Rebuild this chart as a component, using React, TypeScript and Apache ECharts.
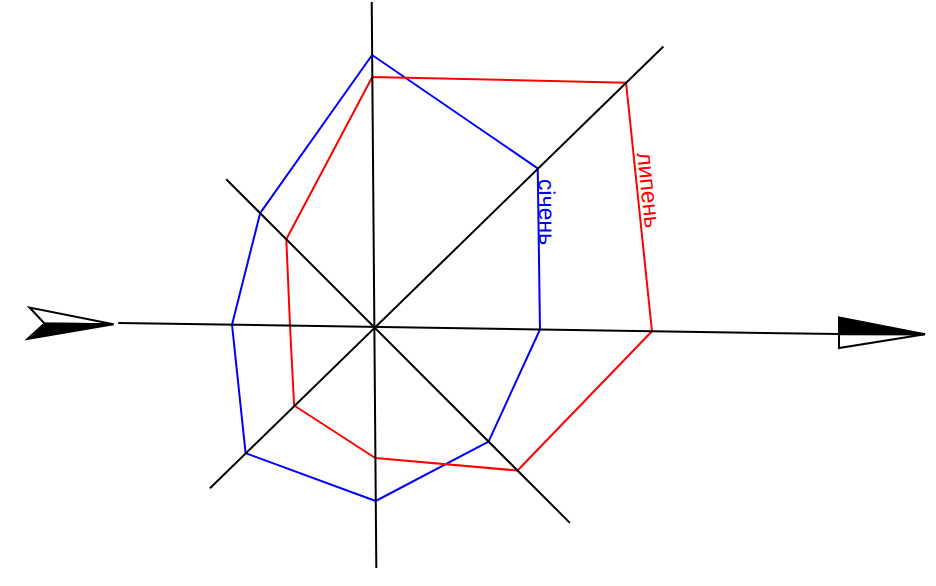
import React, { useEffect, useRef } from "react";
import * as echarts from "echarts";

// Directions of the wind rose (N, NE, E, SE, S, SW, W, NW)
const directions = ["Пн", "ПнСх", "Сх", "ПдСх", "Пд", "ПдЗх", "Зх", "ПнЗх"];
// Angle of each direction ray (degrees, counter-clockwise from east)
const directionAngles = [90.4, 44.1, -0.87, -45, -89.45, -135.5, 179.1, 135];
// Length of each axis ray
const axisLengths = [325, 403, 465, 277, 241, 230, 256, 209];
// Series values per direction
const januaryValues = [272, 228, 166, 162, 174, 180, 142, 161];
const julyValues = [250, 351, 278, 203, 131, 112, 84, 124];
const seriesNames = ["січень", "липень"];

const toXY = (r: number, deg: number): [number, number] => {
  const a = (deg * Math.PI) / 180;
  return [r * Math.cos(a), r * Math.sin(a)];
};

const polygon = (vals: number[]) => {
  const pts = vals.map((v, i) => toXY(v, directionAngles[i]));
  pts.push(pts[0]);
  return pts;
};

const axisPairs = [
  [0, 4],
  [1, 5],
  [2, 6],
  [3, 7],
];

export default function App() {
  const ref = useRef<HTMLDivElement>(null);
  useEffect(() => {
    if (!ref.current) return;
    const chart = echarts.init(ref.current, undefined, { renderer: "svg" });
    const axisSeries = axisPairs.map(([a, b]) => ({
      type: "line",
      name: directions[a] + "-" + directions[b],
      data: [toXY(axisLengths[a], directionAngles[a]), toXY(axisLengths[b], directionAngles[b])],
      showSymbol: false,
      silent: true,
      z: 5,
      lineStyle: { color: "#000", width: 2 },
    }));
    const font = '23px "Liberation Sans", Arial, sans-serif';
    chart.setOption({
      animation: false,
      backgroundColor: "#fff",
      grid: { left: 0, right: 0, top: 0, bottom: 0, containLabel: false },
      xAxis: {
        type: "value",
        min: -374,
        max: 562,
        show: false,
        splitLine: { show: false },
      },
      yAxis: {
        type: "value",
        min: -259,
        max: 327,
        show: false,
        splitLine: { show: false },
      },
      series: [
        {
          type: "line",
          name: seriesNames[0],
          data: polygon(januaryValues),
          showSymbol: false,
          silent: true,
          z: 3,
          lineStyle: { color: "#0000ff", width: 2 },
        },
        {
          type: "line",
          name: seriesNames[1],
          data: polygon(julyValues),
          showSymbol: false,
          silent: true,
          z: 3,
          lineStyle: { color: "#ff0000", width: 2 },
        },
        ...axisSeries,
      ],
      graphic: [
        // right arrow head: upper half filled, lower half outlined
        {
          type: "polygon",
          z: 10,
          shape: { points: [[839, 334], [839, 348], [925, 334.3]] },
          style: { fill: "#fff", stroke: "#000", lineWidth: 2 },
        },
        {
          type: "polygon",
          z: 10,
          shape: { points: [[839, 317.5], [839, 334], [925, 334.3]] },
          style: { fill: "#000", stroke: "#000", lineWidth: 2 },
        },
        // left arrow tail
        {
          type: "polygon",
          z: 10,
          shape: { points: [[29.5, 307.5], [44.5, 323.5], [113.5, 324.3]] },
          style: { fill: "#fff", stroke: "#000", lineWidth: 2 },
        },
        {
          type: "polygon",
          z: 10,
          shape: { points: [[44.5, 323.5], [27.5, 339], [113.5, 324.3]] },
          style: { fill: "#000", stroke: "#000", lineWidth: 2 },
        },
        {
          type: "text",
          z: 10,
          x: 547,
          y: 212,
          rotation: -1.557,
          style: {
            text: seriesNames[0],
            fill: "#0000ff",
            font,
            align: "center",
            verticalAlign: "middle",
          },
        },
        {
          type: "text",
          z: 10,
          x: 649,
          y: 190,
          rotation: -1.464,
          style: {
            text: seriesNames[1],
            fill: "#ff0000",
            font,
            align: "center",
            verticalAlign: "middle",
          },
        },
      ],
    });
    return () => chart.dispose();
  }, []);
  return (
    <div
      ref={ref}
      style={{ position: "absolute", left: 0, top: 0, width: 936, height: 586 }}
    />
  );
}
